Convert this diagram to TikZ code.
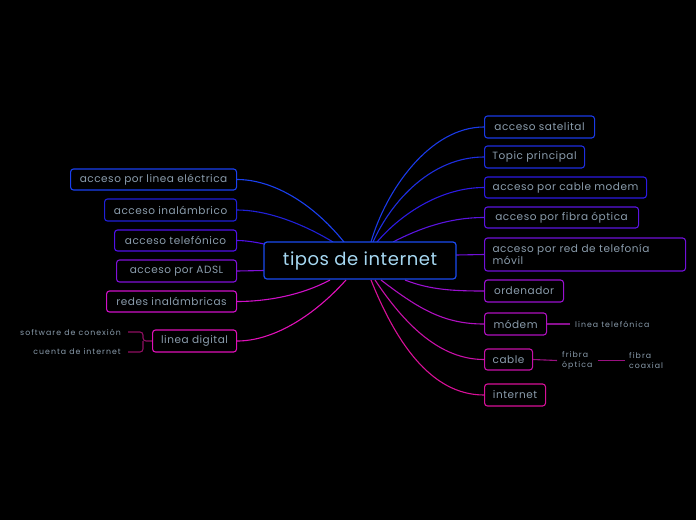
\documentclass[tikz,border=0pt]{standalone}
\usepackage{fontspec}
\setmainfont[LetterSpace=5]{Poppins}
\newfontfamily\subfont[LetterSpace=13]{Poppins}
\newfontfamily\topfont[LetterSpace=3]{Poppins}
\definecolor{txt}{HTML}{8A9CAC}
\definecolor{ctxt}{HTML}{A6D8F2}
\definecolor{cborder}{HTML}{1A4AF0}
\definecolor{cSat}{HTML}{1A3AE6}
\definecolor{cTop}{HTML}{1E2EE0}
\definecolor{cCab}{HTML}{2C1AE2}
\definecolor{cFib}{HTML}{5A14E0}
\definecolor{cMov}{HTML}{7010D8}
\definecolor{cOrd}{HTML}{9A10D0}
\definecolor{cMod}{HTML}{B010C0}
\definecolor{cCbl}{HTML}{C810A8}
\definecolor{cInt}{HTML}{D81098}
\definecolor{cEle}{HTML}{1A40F0}
\definecolor{cIna}{HTML}{2020D8}
\definecolor{cTel}{HTML}{5010E8}
\definecolor{cAds}{HTML}{8010D8}
\definecolor{cRed}{HTML}{D010C8}
\definecolor{cDig}{HTML}{E010B8}
\definecolor{cSubM}{HTML}{8A1090}
\definecolor{cSubC}{HTML}{9A1080}
\definecolor{cSubD}{HTML}{900F62}
\tikzset{
  box/.style={draw, rounded corners=3pt, line width=1.1pt, fill=black, anchor=west,
    inner xsep=0pt, inner ysep=0pt, align=center, text=txt, font=\fontsize{10.5}{12.5}\selectfont},
  conn/.style={line width=1.1pt},
  topbox/.style={draw=cborder, rounded corners=3pt, line width=1.2pt, fill=black, minimum width=192pt, minimum height=37pt, inner sep=0pt, text=ctxt, font=\topfont\fontsize{18}{21}\selectfont},
  subtxt/.style={text=txt, inner xsep=5pt, inner ysep=1pt, align=left, font=\subfont\fontsize{7.8}{10.5}\selectfont},
}
\begin{document}
\begin{tikzpicture}[x=1pt,y=-1pt]
\fill[black] (0,0) rectangle (696,520);
\useasboundingbox (0,0) rectangle (696,520);

\coordinate (sSat) at (371,242);
\coordinate (sTop) at (373,242);
\coordinate (sCab) at (377,242);
\coordinate (sFib) at (393,242);
\coordinate (sMov) at (456,255);
\coordinate (sOrd) at (405,280);
\coordinate (sMod) at (381,280);
\coordinate (sCbl) at (375,280);
\coordinate (sInt) at (371,280);
\coordinate (sEle) at (344,242);
\coordinate (sIna) at (333,242);
\coordinate (sTel) at (264,244);
\coordinate (sAds) at (264,270.5);
\coordinate (sRed) at (330,280);
\coordinate (sDig) at (346,280);

% right nodes
\node[box, draw=cSat, minimum width=110pt, minimum height=22pt] (sat) at (484,127) {acceso satelital};
\node[box, draw=cTop, minimum width=100pt, minimum height=22pt] (top) at (484,157) {Topic principal};
\node[box, draw=cCab, minimum width=162pt, minimum height=21pt] (cab) at (484,187.5) {acceso por cable modem};
\node[box, draw=cFib, minimum width=154pt, minimum height=21pt] (fib) at (484,217.5) {acceso por fibra óptica};
\node[box, draw=cMov, minimum width=201pt, minimum height=33pt, text width=185pt, inner xsep=8pt, align=left] (mov) at (484,254.5) {acceso por red de telefonía\\móvil};
\node[box, draw=cOrd, minimum width=79pt, minimum height=22pt] (ord) at (484,291) {ordenador};
\node[box, draw=cMod, minimum width=62pt, minimum height=22pt] (mod) at (484,324) {módem};
\node[box, draw=cCbl, minimum width=48pt, minimum height=21pt] (cbl) at (484,359.5) {cable};
\node[box, draw=cInt, minimum width=61pt, minimum height=22pt] (int) at (484,395) {internet};

% left nodes
\node[box, draw=cEle, minimum width=166pt, minimum height=21pt] (ele) at (70,179.5) {acceso por linea eléctrica};
\node[box, draw=cIna, minimum width=132pt, minimum height=22pt] (ina) at (104,210) {acceso inalámbrico};
\node[box, draw=cTel, minimum width=122pt, minimum height=21pt] (tel) at (114,240.5) {acceso telefónico};
\node[box, draw=cAds, minimum width=120pt, minimum height=22pt] (ads) at (116,271) {acceso por ADSL};
\node[box, draw=cRed, minimum width=130pt, minimum height=21pt] (red) at (106,301.5) {redes inalámbricas};
\node[box, draw=cDig, minimum width=84pt, minimum height=22pt] (dig) at (152,341) {linea digital};

% sub texts
\node[subtxt, anchor=west] (lt) at (570,324) {linea telefónica};
\node[subtxt, anchor=west] (ff) at (557,360.5) {fribra\\óptica};
\node[subtxt, anchor=west, inner xsep=4pt] (fc) at (625,360.5) {fibra\\coaxial};
\node[subtxt, anchor=east, inner xsep=7pt] (sw) at (128,332) {software de conexión};
\node[subtxt, anchor=east, inner xsep=7pt] (cu) at (128,352) {cuenta de internet};

% connectors
\draw[conn, cSat] (sSat) .. controls (386,190) and (430,127) .. (sat.west);
\draw[conn, cTop] (sTop) .. controls (392,200) and (432,157) .. (top.west);
\draw[conn, cCab] (sCab) .. controls (400,215) and (440,187.5) .. (cab.west);
\draw[conn, cFib] (sFib) .. controls (420,228) and (450,217.5) .. (fib.west);
\draw[conn, cMov] (sMov) -- (mov.west);
\draw[conn, cOrd] (sOrd) .. controls (430,290) and (455,291) .. (ord.west);
\draw[conn, cMod] (sMod) .. controls (420,310) and (445,324) .. (mod.west);
\draw[conn, cCbl] (sCbl) .. controls (405,325) and (440,359.5) .. (cbl.west);
\draw[conn, cInt] (sInt) .. controls (395,340) and (430,395) .. (int.west);

\draw[conn, cEle] (sEle) .. controls (310,200) and (270,179.5) .. (ele.east);
\draw[conn, cIna] (sIna) .. controls (300,222) and (265,210) .. (ina.east);
\draw[conn, cTel] (sTel) .. controls (255,242) and (245,240.5) .. (tel.east);
\draw[conn, cAds] (sAds) -- (ads.east);
\draw[conn, cRed] (sRed) .. controls (300,296) and (265,301.5) .. (red.east);
\draw[conn, cDig] (sDig) .. controls (310,320) and (270,341) .. (dig.east);

\draw[conn, cSubM] (mod.east) -- (lt.west);
\draw[conn, cSubC] (cbl.east) -- (ff.west);
\draw[conn, cSubC] (ff.east) -- (fc.west);
\coordinate (bk) at (143,341);
\draw[conn, cSubD, rounded corners=3pt] (dig.west) -- (bk) |- (sw.east);
\draw[conn, cSubD, rounded corners=3pt] (bk) |- (cu.east);

% center node drawn last, on top of connectors
\node[topbox] (c) at (360,260.5) {tipos de internet};
\end{tikzpicture}
\end{document}
